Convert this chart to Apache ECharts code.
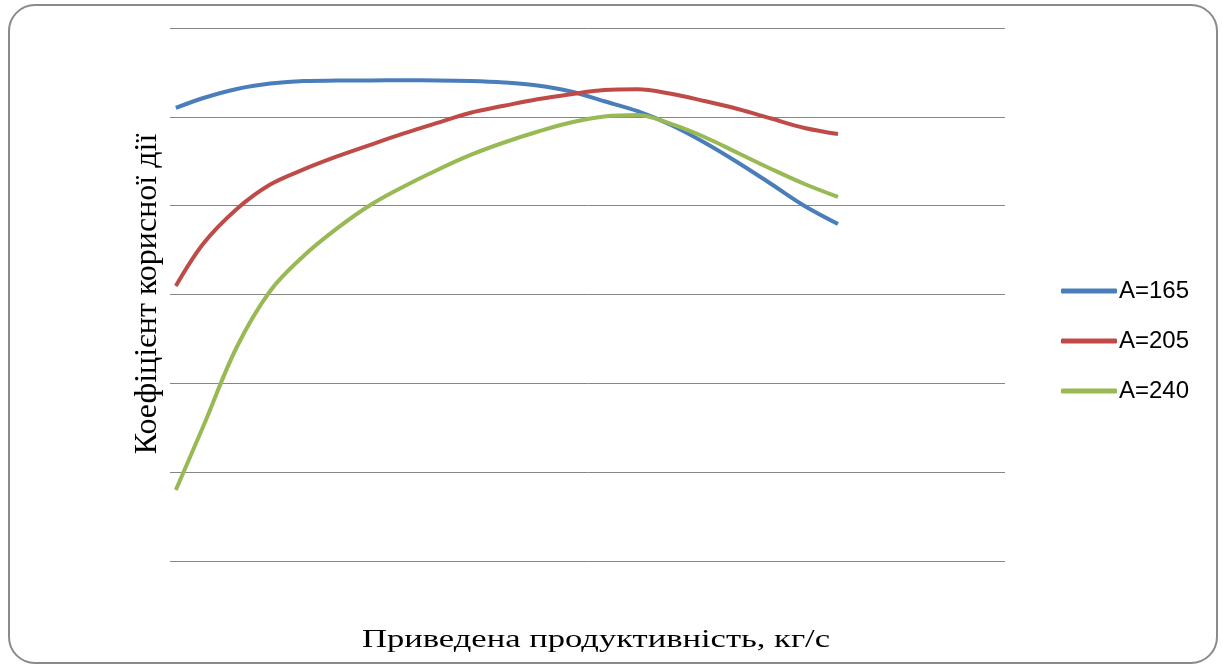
<!DOCTYPE html>
<html>
<head>
<meta charset="utf-8">
<script src="https://cdn.jsdelivr.net/npm/echarts@6/dist/echarts.min.js"></script>
<style>html,body{margin:0;padding:0;background:#fff;}#c{width:1223px;height:670px;}</style>
</head>
<body>
<div id="c"></div>
<script>
const xValues = [0.7, 4, 8, 12, 16, 20, 24, 28, 32, 36, 40, 44, 48, 52, 56, 60, 64, 68, 72, 76, 80];
const seriesNames = ['A=165', 'A=205', 'A=240'];
const a165 = [5.100, 5.212, 5.314, 5.375, 5.404, 5.408, 5.410, 5.411, 5.410, 5.404, 5.387, 5.353, 5.285, 5.175, 5.063, 4.908, 4.711, 4.486, 4.244, 3.997, 3.794];
const a205 = [3.096, 3.574, 3.963, 4.238, 4.408, 4.554, 4.685, 4.813, 4.931, 5.046, 5.124, 5.198, 5.255, 5.302, 5.310, 5.259, 5.178, 5.088, 4.981, 4.875, 4.807];
const a240 = [0.799, 1.520, 2.409, 3.040, 3.434, 3.744, 4.008, 4.216, 4.402, 4.571, 4.711, 4.832, 4.936, 5.004, 5.021, 4.920, 4.773, 4.593, 4.413, 4.244, 4.098];
const colors = ['#4A7EBB', '#BE4B48', '#98B954'];
const xTitle = 'Приведена продуктивність, кг/с';
const yTitle = 'Коефіцієнт корисної дії';

const seriesData = [a165, a205, a240];
const chart = echarts.init(document.getElementById('c'));
chart.setOption({
  animation: false,
  backgroundColor: '#fff',
  graphic: [{
    type: 'rect', silent: true, z: -1,
    shape: { x: 9, y: 5, width: 1208, height: 658, r: 26 },
    style: { fill: 'none', stroke: '#8a8a8a', lineWidth: 2 }
  }, {
    type: 'text', silent: true, x: 596, y: 640, scaleX: 1.33,
    style: { x: 0, y: 0, text: xTitle, fill: '#000', font: '26px "Liberation Serif"', textAlign: 'center', textVerticalAlign: 'middle', align: 'center', verticalAlign: 'middle' }
  }, {
    type: 'text', silent: true, x: 148, y: 294, rotation: Math.PI / 2,
    style: { x: 0, y: 0, text: yTitle, fill: '#000', font: '32px "Liberation Serif"', textAlign: 'center', textVerticalAlign: 'middle', align: 'center', verticalAlign: 'middle' }
  }],
  grid: { left: 170, right: 218, top: 28, bottom: 109, containLabel: false },
  legend: {
    orient: 'vertical', left: 1056, top: 274, itemGap: 26,
    itemWidth: 56, itemHeight: 5, icon: 'roundRect',
    data: seriesNames,
    textStyle: { fontFamily: 'Liberation Sans', fontSize: 24, color: '#000', lineHeight: 24, padding: [0, 0, 0, -3] }
  },
  xAxis: {
    type: 'value', min: 0, max: 100,
    axisLine: { show: false }, axisTick: { show: false }, axisLabel: { show: false }, splitLine: { show: false }
  },
  yAxis: {
    type: 'value', min: 0, max: 6, interval: 1,
    axisLine: { show: false }, axisTick: { show: false }, axisLabel: { show: false },
    splitLine: { show: true, lineStyle: { color: '#868686', width: 1 } }
  },
  series: seriesNames.map((n, i) => ({
    name: n, type: 'line', smooth: 0.35, symbol: 'none',
    color: colors[i],
    lineStyle: { width: 4, color: colors[i] },
    data: xValues.map((x, j) => [x, seriesData[i][j]])
  }))
});
</script>
</body>
</html>
